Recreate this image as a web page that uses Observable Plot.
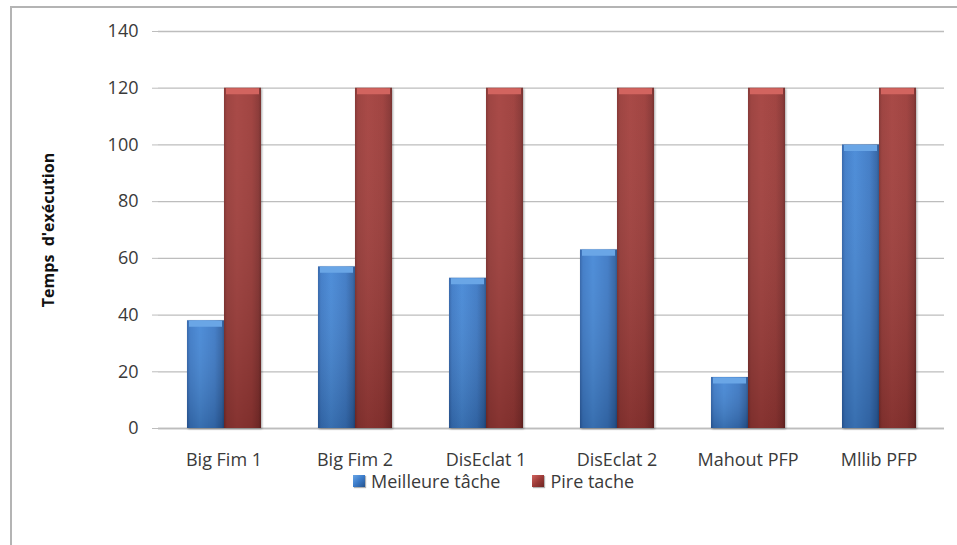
<!DOCTYPE html>
<html>
<head>
<meta charset="utf-8">
<script src="https://cdn.jsdelivr.net/npm/d3@7"></script>
<script src="https://cdn.jsdelivr.net/npm/@observablehq/plot@0.6"></script>
<style>
  body { margin: 0; background: #fff; }
  #wrap { position: relative; width: 957px; height: 545px; overflow: hidden; background: #fff; font-family: "Open Sans", Lato, sans-serif; }
  #border { position: absolute; left: 10px; top: 6px; width: 1000px; height: 600px; border: 2px solid #b4b4b4; box-sizing: border-box; }
  #chart { position: absolute; left: 0; top: 0; }
  #legend { position: absolute; top: 472px; left: 353px; font-size: 18px; line-height: 18px; color: #3a3a3a; display: flex; align-items: center; white-space: nowrap; }
  #legend .sw { display: inline-block; width: 12px; height: 12px; margin-right: 6px; box-shadow: 1px 1px 1px rgba(0,0,0,0.3); }
  #legend .item { display: inline-flex; align-items: center; }
</style>
</head>
<body>
<div id="wrap">
  <div id="border"></div>
  <div id="chart"></div>
  <div id="legend"></div>
</div>
<script>
// Execution time per algorithm: best and worst task
const categories = ["Big Fim 1", "Big Fim 2", "DisEclat 1", "DisEclat 2", "Mahout PFP", "Mllib PFP"];
const series = ["Meilleure tâche", "Pire tache"];
const meilleure = [38, 57, 53, 63, 18, 100];
const pire = [120, 120, 120, 120, 120, 120];
const yTicks = [0, 20, 40, 60, 80, 100, 120, 140];
const yLabel = "Temps  d'exécution";

const bevelColors = ["#6aa6e6", "#d2645f"];

const data = categories.flatMap((cat, i) => [
  {cat, serie: series[0], value: meilleure[i]},
  {cat, serie: series[1], value: pire[i]}
]);

const svg = Plot.plot({
  width: 957,
  height: 470,
  marginLeft: 157,
  marginRight: 13,
  marginTop: 31,
  marginBottom: 42,
  style: {fontFamily: "'Open Sans', Lato, sans-serif", fontSize: "18px", color: "#3a3a3a", background: "transparent", overflow: "visible"},
  fx: {domain: categories, padding: 0, label: null},
  x: {domain: series, paddingInner: 0, paddingOuter: 0.75, axis: null},
  y: {domain: [0, 140], label: null},
  color: {domain: series, range: ["url(#gradBlue)", "url(#gradRed)"]},
  marks: [
    Plot.gridY(yTicks, {stroke: "#bdbdbd", strokeOpacity: 1, strokeWidth: 1.3}),
    Plot.ruleY([0], {stroke: "#bdbdbd", strokeWidth: 1.3}),
    Plot.axisY(yTicks, {tickSize: 6, tickPadding: 14, stroke: "#bdbdbd", line: true, label: null, fontSize: 18}),
    Plot.axisFx({anchor: "bottom", tickSize: 0, tickPadding: 25, label: null, fontSize: 18}),
    // axis title, drawn once in the first facet
    Plot.text([{cat: categories[0]}], {fx: "cat", text: () => yLabel, frameAnchor: "left", textAnchor: "middle",
      rotate: -90, dx: -110, fontWeight: "bold", fontSize: 16, fill: "#111"}),
    Plot.barY(data, {fx: "cat", x: "serie", y: "value", fill: "serie"}),
    Plot.barY(data, {fx: "cat", x: "serie", y: "value", fill: "url(#shade)"}),
    Plot.tickY(data, {fx: "cat", x: "serie", y: "value", dy: 3, strokeWidth: 6, insetLeft: 2, insetRight: 2,
      stroke: d => bevelColors[series.indexOf(d.serie)]})
  ]
});

// gradients giving the bars their rounded look
const defs = d3.select(svg).insert("defs", ":first-child");
function hGrad(id, stops) {
  const g = defs.append("linearGradient").attr("id", id).attr("x1", 0).attr("x2", 1).attr("y1", 0).attr("y2", 0);
  stops.forEach(([o, c]) => g.append("stop").attr("offset", o).attr("stop-color", c));
}
hGrad("gradBlue", [[0, "#2c5fa6"], [0.08, "#3a78c6"], [0.35, "#4487d6"], [0.75, "#3a77c4"], [0.93, "#2e62a6"], [1, "#25528c"]]);
hGrad("gradRed", [[0, "#7e2c2a"], [0.08, "#983936"], [0.35, "#a33e3b"], [0.75, "#9b3936"], [0.93, "#86302e"], [1, "#6e2523"]]);
const shade = defs.append("linearGradient").attr("id", "shade").attr("x1", 0).attr("x2", 0).attr("y1", 0).attr("y2", 1);
shade.append("stop").attr("offset", 0).attr("stop-color", "#ffffff").attr("stop-opacity", 0.06);
shade.append("stop").attr("offset", 1).attr("stop-color", "#000000").attr("stop-opacity", 0.18);

d3.select(svg).selectAll("rect").filter(function() {
  const f = this.getAttribute("fill") || "";
  return f.startsWith("url(#grad");
}).style("filter", "drop-shadow(1.5px 1px 1px rgba(0,0,0,0.35))");

// keep the double space of the axis title
d3.select(svg).selectAll("text").filter(function() { return this.textContent === yLabel; })
  .style("white-space", "pre");

document.getElementById("chart").appendChild(svg);

// legend
const legend = document.getElementById("legend");
const swatchBg = [
  "linear-gradient(135deg, #6aa6e6, #3b7bc9 50%, #25528c)",
  "linear-gradient(135deg, #d2645f, #9d3b38 50%, #6e2523)"
];
series.forEach((s, i) => {
  const item = document.createElement("span");
  item.className = "item";
  if (i > 0) item.style.marginLeft = "32px";
  const sw = document.createElement("span");
  sw.className = "sw";
  sw.style.background = swatchBg[i];
  item.appendChild(sw);
  item.appendChild(document.createTextNode(s));
  legend.appendChild(item);
});
</script>
</body>
</html>
